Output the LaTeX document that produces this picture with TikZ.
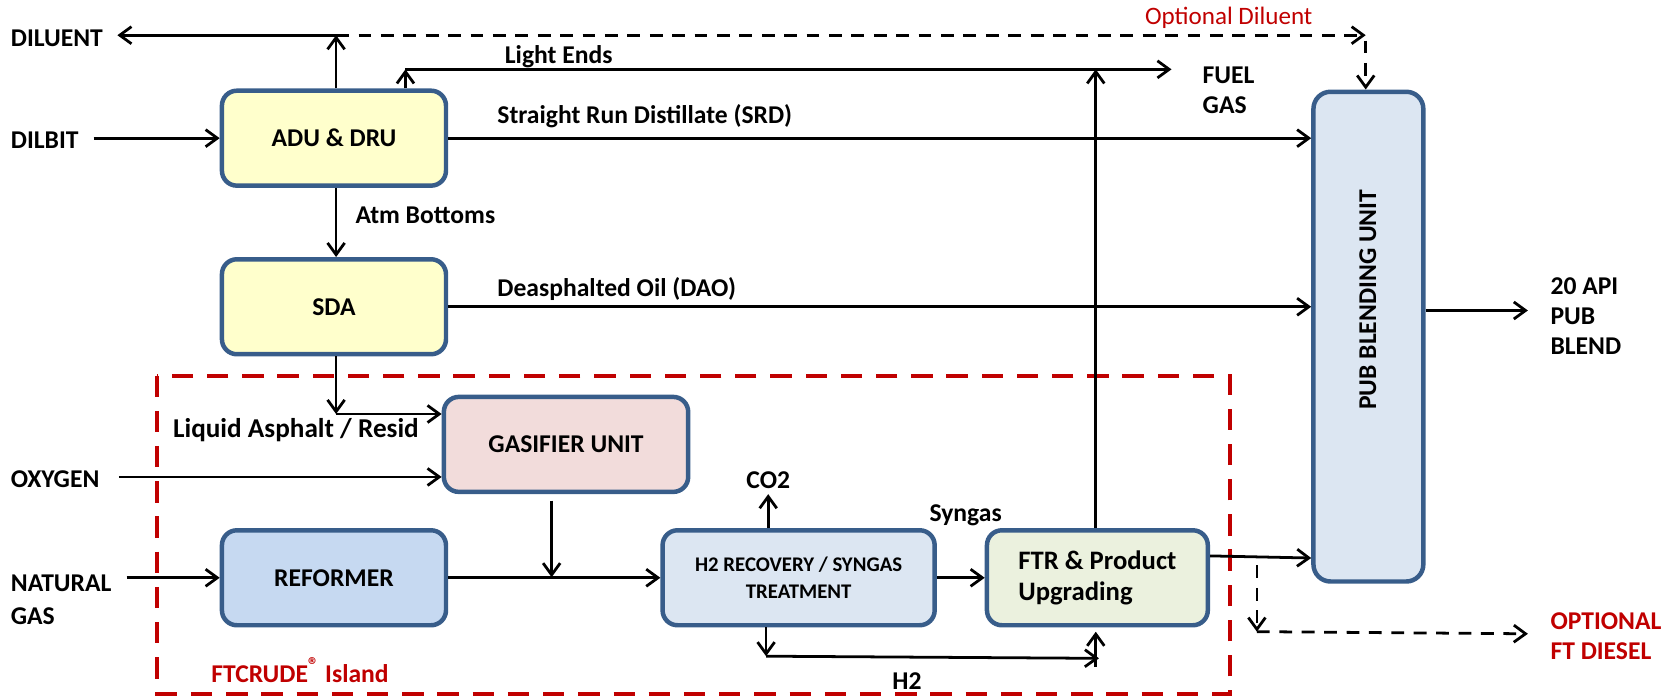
\documentclass[tikz,border=0pt]{standalone}
\usepackage{fontspec}
\setmainfont{Carlito}
\usetikzlibrary{arrows.meta,calc}
\definecolor{bord}{HTML}{385D8A}
\definecolor{yel}{HTML}{FFFFCC}
\definecolor{pink}{HTML}{F2DCDB}
\definecolor{refb}{HTML}{C6D9F1}
\definecolor{lblue}{HTML}{DCE6F2}
\definecolor{lgreen}{HTML}{EBF1DE}
\definecolor{dred}{HTML}{C00000}
\tikzset{
  unit/.style={draw=bord, line width=4.2pt, rounded corners=14pt, align=center,
    font=\fontsize{24}{28}\selectfont\bfseries, inner sep=0pt},
  lbl/.style={font=\fontsize{24}{28}\selectfont\bfseries, inner sep=0pt, align=left},
  arr/.style={line width=2.6pt, -{Straight Barb[length=11pt,width=16pt]}},
  dsh/.style={dash pattern=on 12pt off 9pt},
}
\begin{document}
\begin{tikzpicture}[x=1pt,y=-1pt]
\useasboundingbox (0,0) rectangle (1568,653);
% island
\draw[dred, line width=3.8pt, dash pattern=on 20pt off 13pt] (147,352) rectangle (1153,650);
% units
\node[unit, fill=yel, minimum width=210pt, minimum height=89pt] (adu) at (313,129.5) {ADU \& DRU};
\node[unit, fill=yel, minimum width=210pt, minimum height=89pt] (sda) at (313,287.5) {SDA};
\node[unit, fill=pink, minimum width=229pt, minimum height=89pt] (gas) at (530.5,416.5) {GASIFIER UNIT};
\node[unit, fill=refb, minimum width=210pt, minimum height=89pt] (ref) at (313,541.5) {REFORMER};
\node[unit, fill=lblue, minimum width=255pt, minimum height=89pt,
      font=\fontsize{19.5}{26}\selectfont\bfseries] (h2r) at (748.5,541.5) {H2 RECOVERY / SYNGAS\\TREATMENT};
\node[unit, fill=lgreen, minimum width=207pt, minimum height=89pt, align=left,
      font=\fontsize{25}{29}\selectfont\bfseries] (ftr) at (1028.5,541.5) {FTR \& Product\\Upgrading};
\node[unit, fill=lblue, minimum width=103pt, minimum height=459pt, rounded corners=16pt] (pub) at (1282.5,315.5) {};
\node[lbl, rotate=90] (pubtxt) at (1282,281) {PUB BLENDING UNIT};
% side labels
\node[lbl, anchor=west] (dil) at (10,36) {DILUENT};
\node[lbl, anchor=west] (dilbit) at (10,131) {DILBIT};
\node[lbl, anchor=west] (oxy) at (10,449) {OXYGEN};
\node[lbl, anchor=west] (ng) at (10,562) {NATURAL\\[3pt]GAS};
\node[lbl, anchor=west] (fuel) at (1127,84.5) {FUEL\\GAS};
\node[lbl, anchor=west] (api) at (1453,296) {20 API\\PUB\\BLEND};
\node[lbl, anchor=west, text=dred] (ftd) at (1453,596.5) {OPTIONAL\\FT DIESEL};
\node[lbl, anchor=west, text=dred, font=\fontsize{23.5}{27}\selectfont] (optdil) at (1073,17) {Optional Diluent};
\node[lbl, anchor=west, text=dred] (island) at (198,628) {FTCRUDE\textsuperscript{\fontsize{20}{20}\selectfont ®} Island};
\node[lbl, anchor=west] (lights) at (473,53) {Light Ends};
\node[lbl, anchor=west] (srd) at (466,109) {Straight Run Distillate (SRD)};
\node[lbl, anchor=west] (atm) at (333,202) {Atm Bottoms};
\node[lbl, anchor=west] (dao) at (466,271) {Deasphalted Oil (DAO)};
\node[lbl, anchor=west, font=\fontsize{25.5}{28}\selectfont\bfseries] (lar) at (162,403) {Liquid Asphalt / Resid};
\node[lbl] (co2) at (720,450) {CO2};
\node[lbl] (syn) at (905,483) {Syngas};
\node[lbl] (h2l) at (850,638) {H2};
% coordinates
\coordinate (jd) at (315,33);
\coordinate (dtip) at (110,33);
\coordinate (od) at (1280,33);
\coordinate (le) at (380,65);
\coordinate (fgtip) at (1098,65);
\coordinate (ftrup) at (1027,65);
\coordinate (ja) at (315,388);
\coordinate (jg) at (517,541);
\coordinate (jh) at (718,615);
\coordinate (h2end) at (1030,617);
\coordinate (h2up) at (1027,625);
\coordinate (fds) at (1178,530);
\coordinate (fd) at (1178,592);
\coordinate (fdtip) at (1432,594);
\coordinate (apitip) at (1432,291);
% connectors
\draw[arr] (jd) -- (dtip);
\draw[arr] (jd |- adu.north) -- (jd);
\draw[arr, dsh] (jd) -- (od);
\draw[arr, dsh] ([yshift=-5pt]od) -- (pub.north -| od);
\draw[arr] (le |- adu.north) -- (le);
\draw[arr] (le) -- (fgtip);
\draw[arr] (ftr.north -| ftrup) -- (ftrup);
\draw[arr] ([xshift=14pt]dilbit.east |- adu.west) -- (adu.west);
\draw[arr] (adu.east) -- (pub.west |- adu.east);
\draw[arr] (jd |- adu.south) -- (jd |- sda.north);
\draw[arr] (sda.east) -- (pub.west |- sda.east);
\draw[arr] (ja |- sda.south) -- (ja);
\draw[arr] (ja) -- (gas.west |- ja);
\draw[arr] ([xshift=18pt]oxy.east |- 0,447) -- (gas.west |- 0,447);
\draw[arr] ([yshift=-6pt]gas.south -| jg) -- (jg);
\draw[arr] ([xshift=14pt]ng.east |- ref.west) -- (ref.west);
\draw[arr] (ref.east) -- (h2r.west);
\draw[arr] (h2r.north -| co2) -- ([yshift=-5pt]co2.south);
\draw[arr] (h2r.east) -- (ftr.west);
\draw[arr] (h2r.south -| jh) -- (jh);
\draw[arr] (jh) -- (h2end);
\draw[arr] (h2up) -- ([yshift=-4pt]ftr.south -| h2up);
\draw[arr] (ftr.east |- 0,521) -- (pub.west |- 0,523);
\draw[arr, dsh] (fds) -- (fd);
\draw[arr, dsh] (fd) -- (fdtip);
\draw[arr] (pub.east |- apitip) -- (apitip);
\end{tikzpicture}
\end{document}
